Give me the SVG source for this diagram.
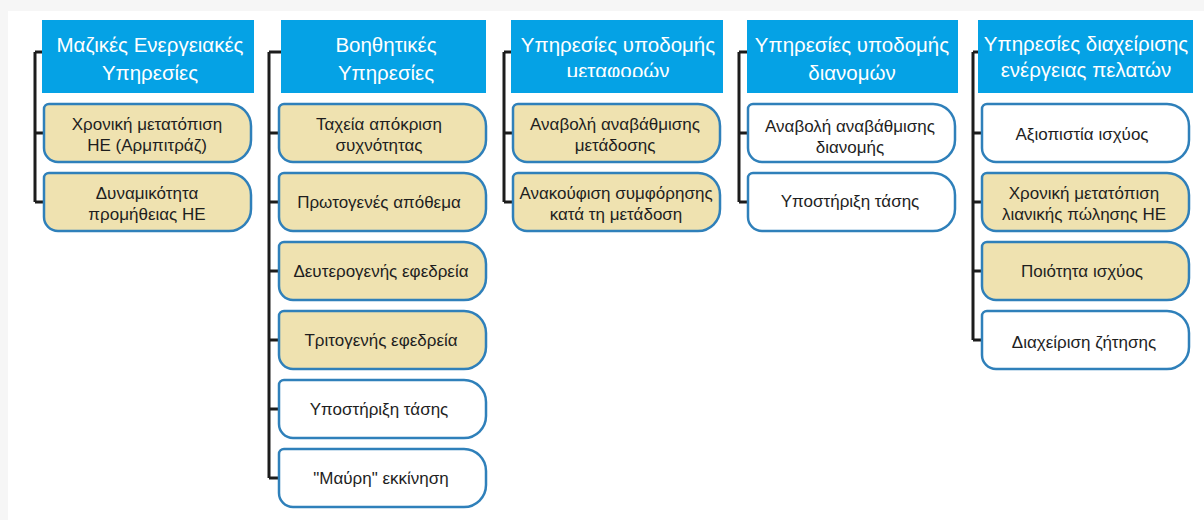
<svg xmlns="http://www.w3.org/2000/svg" xmlns:xlink="http://www.w3.org/1999/xlink" width="1204" height="520" viewBox="0 0 1204 520">
<style>
.hdr{fill:#05a2e5}
.ht{font-family:"Liberation Sans","Noto Sans",sans-serif;font-size:20.5px;fill:#ffffff;text-anchor:middle}
.bt{font-family:"Liberation Sans","Noto Sans",sans-serif;font-size:17px;fill:#1e1e1e;text-anchor:middle}
.tan{fill:#efe2b0;stroke:#2f80ba;stroke-width:2.5}
.wht{fill:#ffffff;stroke:#2f80ba;stroke-width:2.5}
.con{fill:none;stroke:#1c1c1c;stroke-width:3}
</style>
<defs>
<path id="box" d="M5,0 H185 A22,22 0 0 1 207,22 V36 A22,22 0 0 1 185,58 H14 A14,14 0 0 1 0,44 V5 A5,5 0 0 1 5,0 Z"/>
<clipPath id="clip3"><rect x="511" y="20" width="212" height="57"/></clipPath>
</defs>
<rect x="0" y="0" width="1204" height="520" fill="#ffffff"/>
<rect x="0" y="0" width="1204" height="11" fill="#f6f6f6"/>
<rect x="0" y="0" width="8" height="520" fill="#f6f6f6"/>

<g id="connectors">
<path class="con" d="M35,52 V202 M35,52 H42 M35,133 H44 M35,202 H44"/>
<path class="con" d="M269,52 V478 M269,52 H281 M269,133 H279 M269,202 H279 M269,271 H279 M269,340 H279 M269,409 H279 M269,478 H279"/>
<path class="con" d="M504,52 V202 M504,52 H511 M504,133 H513 M504,202 H513"/>
<path class="con" d="M739,52 V202 M739,52 H747 M739,133 H748 M739,202 H748"/>
<path class="con" d="M973,52 V340 M973,52 H978 M973,133 H982 M973,202 H982 M973,271 H982 M973,340 H982"/>
</g>

<g id="h1"><rect class="hdr" x="42" y="20" width="212" height="73"/>
<text class="ht" x="150" y="52">Μαζικές Ενεργειακές</text><text class="ht" x="150" y="80">Υπηρεσίες</text></g>
<g id="h2"><rect class="hdr" x="281" y="20" width="205" height="73"/>
<text class="ht" x="386" y="52">Βοηθητικές</text><text class="ht" x="386" y="80">Υπηρεσίες</text></g>
<g id="h3"><rect class="hdr" x="511" y="20" width="212" height="73"/>
<text class="ht" x="618" y="52">Υπηρεσίες υποδομής</text><text class="ht" x="618" y="78" clip-path="url(#clip3)">μεταφορών</text></g>
<g id="h4"><rect class="hdr" x="747" y="20" width="211" height="73"/>
<text class="ht" x="852" y="52">Υπηρεσίες υποδομής</text><text class="ht" x="852" y="80">διανομών</text></g>
<g id="h5"><rect class="hdr" x="978" y="20" width="215" height="73"/>
<text class="ht" x="1086" y="51">Υπηρεσίες διαχείρισης</text><text class="ht" x="1086" y="77">ενέργειας πελατών</text></g>

<g id="c1b1"><use href="#box" x="44" y="104" class="tan"/><text class="bt" x="147" y="130">Χρονική μετατόπιση</text><text class="bt" x="147" y="151">ΗΕ (Αρμπιτράζ)</text></g>
<g id="c1b2"><use href="#box" x="44" y="173" class="tan"/><text class="bt" x="147" y="199">Δυναμικότητα</text><text class="bt" x="147" y="220">προμήθειας ΗΕ</text></g>

<g id="c2b1"><use href="#box" x="279" y="104" class="tan"/><text class="bt" x="379" y="130">Ταχεία απόκριση</text><text class="bt" x="379" y="151">συχνότητας</text></g>
<g id="c2b2"><use href="#box" x="279" y="173" class="tan"/><text class="bt" x="379" y="208">Πρωτογενές απόθεμα</text></g>
<g id="c2b3"><use href="#box" x="279" y="242" class="tan"/><text class="bt" x="381" y="277">Δευτερογενής εφεδρεία</text></g>
<g id="c2b4"><use href="#box" x="279" y="311" class="tan"/><text class="bt" x="381" y="346">Τριτογενής εφεδρεία</text></g>
<g id="c2b5"><use href="#box" x="279" y="380" class="wht"/><text class="bt" x="379" y="415">Υποστήριξη τάσης</text></g>
<g id="c2b6"><use href="#box" x="279" y="449" class="wht"/><text class="bt" x="381" y="484">"Μαύρη" εκκίνηση</text></g>

<g id="c3b1"><use href="#box" x="513" y="104" class="tan"/><text class="bt" x="615" y="130">Αναβολή αναβάθμισης</text><text class="bt" x="615" y="151">μετάδοσης</text></g>
<g id="c3b2"><use href="#box" x="513" y="173" class="tan"/><text class="bt" x="616" y="199">Ανακούφιση συμφόρησης</text><text class="bt" x="616" y="220">κατά τη μετάδοση</text></g>

<g id="c4b1"><use href="#box" x="748" y="104" class="wht"/><text class="bt" x="850" y="132">Αναβολή αναβάθμισης</text><text class="bt" x="850" y="153">διανομής</text></g>
<g id="c4b2"><use href="#box" x="748" y="173" class="wht"/><text class="bt" x="850" y="207">Υποστήριξη τάσης</text></g>

<g id="c5b1"><use href="#box" x="982" y="104" class="wht"/><text class="bt" x="1082" y="140">Αξιοπιστία ισχύος</text></g>
<g id="c5b2"><use href="#box" x="982" y="173" class="tan"/><text class="bt" x="1084" y="199">Χρονική μετατόπιση</text><text class="bt" x="1084" y="220">λιανικής πώλησης ΗΕ</text></g>
<g id="c5b3"><use href="#box" x="982" y="242" class="tan"/><text class="bt" x="1082" y="277">Ποιότητα ισχύος</text></g>
<g id="c5b4"><use href="#box" x="982" y="311" class="wht"/><text class="bt" x="1084" y="348">Διαχείριση ζήτησης</text></g>
</svg>
